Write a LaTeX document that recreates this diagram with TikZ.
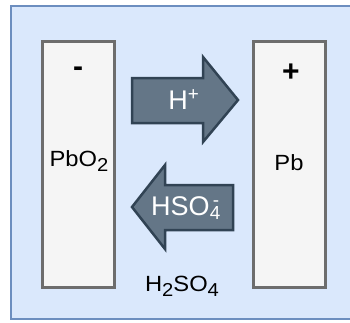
\documentclass[tikz,border=0pt]{standalone}
\usepackage{fontspec}
\setmainfont{Liberation Sans}
\newfontfamily\widefont[FakeStretch=1.08]{Liberation Sans}
\newcommand{\lowsub}[1]{\raisebox{-0.22em}{\scalebox{0.85}{#1}}}
\definecolor{bgfill}{HTML}{DAE8FC}
\definecolor{bgline}{HTML}{6C8EBF}
\definecolor{elfill}{HTML}{F5F5F5}
\definecolor{elline}{HTML}{6D6D6D}
\definecolor{arfill}{HTML}{647687}
\definecolor{arline}{HTML}{314354}
\tikzset{
  electrode/.style={draw=elline, fill=elfill, line width=3pt},
  ionarrow/.style={draw=arline, fill=arfill, line width=2.5pt, line join=miter},
  lbl/.style={inner sep=0pt, font=\widefont\fontsize{22}{26}\selectfont},
  ionlbl/.style={inner sep=0pt, text=white, font=\fontsize{27}{30}\selectfont},
  sign/.style={inner sep=0pt, font=\fontsize{30}{34}\selectfont\bfseries}
}
\begin{document}
\begin{tikzpicture}[x=1pt,y=-1pt]
\useasboundingbox (0,0) rectangle (350,322);
\begin{scope}
\clip (0,0) rectangle (350,322);
\draw[draw=bgline, fill=bgfill, line width=2pt] (11,6) rectangle (360,319);
\end{scope}
\draw[electrode] (42,41) rectangle (114,287);
\draw[electrode] (253,41) rectangle (325,287);
\draw[ionarrow] (132,78) -- (203,78) -- (203,57) -- (238,100) -- (203,142) -- (203,123) -- (132,123) -- cycle;
\draw[ionarrow] (233,185) -- (165,185) -- (165,165) -- (132,207) -- (165,249) -- (165,230) -- (233,230) -- cycle;
\node[sign] (minus) at (78,72) {-};
\node[sign] (plus) at (291,73) {+};
\node[lbl] (pbo) at (79,161) {PbO\lowsub{2}};
\node[lbl] (pb) at (289,163) {Pb};
\node[lbl] (acid) at (182,286) {H\lowsub{2}SO\lowsub{4}};
\node[ionlbl] (hplus) at (184,100) {H\textsuperscript{+}};
\node[ionlbl] (hso) at (186,208) {HSO\rlap{\textsuperscript{\,-}}\textsubscript{4}};
\end{tikzpicture}
\end{document}
